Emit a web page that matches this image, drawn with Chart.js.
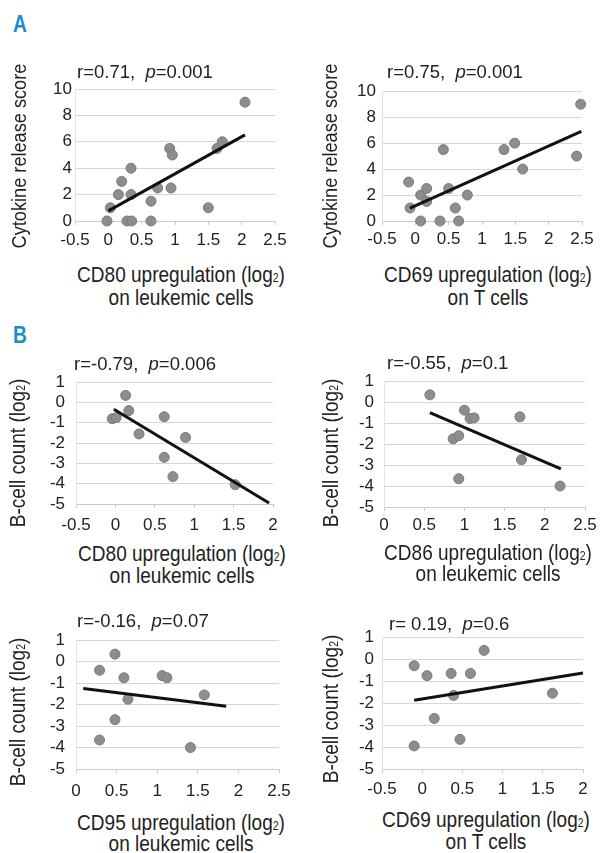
<!DOCTYPE html>
<html>
<head>
<meta charset="utf-8">
<title>Upregulation correlations</title>
<script src="https://cdn.jsdelivr.net/npm/chart.js@4.4.1/dist/chart.umd.min.js"></script>
<style>
  body { margin: 0; width: 603px; height: 853px; background: #fff; position: relative; overflow: hidden;
         font-family: 'Liberation Sans', Arial, sans-serif; color: #222; }
  canvas { position: absolute; }
  .txt { position: absolute; white-space: nowrap; }
  .letter { font-weight: bold; font-size: 24px; line-height: 24px; color: #1b8cc8; transform: translateX(-50%) scaleX(0.8); }
  .stat { font-size: 18.5px; line-height: 20px; }
  .xt { font-size: 22px; text-align: center; transform: translateX(-50%) scaleX(0.865); }
  .yt { font-size: 22px; line-height: 22px; transform: translate(-50%, -50%) rotate(-90deg) scaleX(0.865); }
  .sub { font-size: 0.55em; }
</style>
</head>
<body>

<canvas id="a1" width="300" height="180" style="left:0;top:75px"></canvas>
<canvas id="a2" width="303" height="180" style="left:300px;top:75px"></canvas>
<canvas id="b1" width="300" height="177" style="left:0;top:361px"></canvas>
<canvas id="b2" width="303" height="180" style="left:300px;top:361px"></canvas>
<canvas id="b3" width="300" height="184" style="left:0;top:619px"></canvas>
<canvas id="b4" width="303" height="184" style="left:300px;top:619px"></canvas>

<div class="txt letter" style="left:20px;top:12px">A</div>
<div class="txt letter" style="left:19.5px;top:323px">B</div>

<div class="txt stat" style="left:77px;top:62px">r=0.71,&nbsp; <i>p</i>=0.001</div>
<div class="txt stat" style="left:387px;top:62px">r=0.75,&nbsp; <i>p</i>=0.001</div>
<div class="txt stat" style="left:74px;top:353.5px">r=-0.79,&nbsp; <i>p</i>=0.006</div>
<div class="txt stat" style="left:387px;top:352.5px">r=-0.55,&nbsp; <i>p</i>=0.1</div>
<div class="txt stat" style="left:77px;top:611px">r=-0.16,&nbsp; <i>p</i>=0.07</div>
<div class="txt stat" style="left:389px;top:613.5px">r= 0.19,&nbsp; <i>p</i>=0.6</div>

<div class="txt xt" style="left:181px;top:265px;line-height:19.3px">CD80 upregulation (log<span class="sub">2</span>)<br>on leukemic cells</div>
<div class="txt xt" style="left:488px;top:265px;line-height:19.3px">CD69 upregulation (log<span class="sub">2</span>)<br>on T cells</div>
<div class="txt xt" style="left:181.7px;top:545px;line-height:18.7px">CD80 upregulation (log<span class="sub">2</span>)<br>on leukemic cells</div>
<div class="txt xt" style="left:488px;top:543.7px;line-height:18.3px">CD86 upregulation (log<span class="sub">2</span>)<br>on leukemic cells</div>
<div class="txt xt" style="left:181px;top:813.5px;line-height:17px">CD95 upregulation (log<span class="sub">2</span>)<br>on leukemic cells</div>
<div class="txt xt" style="left:485.5px;top:811.3px;line-height:18.7px">CD69 upregulation (log<span class="sub">2</span>)<br>on T cells</div>

<div class="txt yt" style="left:18.7px;top:155.7px;font-size:21px">Cytokine release score</div>
<div class="txt yt" style="left:329.7px;top:155.7px;font-size:21px">Cytokine release score</div>
<div class="txt yt" style="left:18.7px;top:452.5px">B-cell count (log<span class="sub">2</span>)</div>
<div class="txt yt" style="left:332.2px;top:453.3px">B-cell count (log<span class="sub">2</span>)</div>
<div class="txt yt" style="left:18.7px;top:711.7px">B-cell count (log<span class="sub">2</span>)</div>
<div class="txt yt" style="left:332.2px;top:709.2px">B-cell count (log<span class="sub">2</span>)</div>

<script>
// ---------------- DATA ---------------- //
// A, left: CD80 on leukemic cells vs cytokine release score
var cd80Cyto_x = [-0.02, 0.03, 0.28, 0.35, 0.15, 0.2, 0.34, 0.34, 0.64, 0.64, 0.74, 0.92, 0.96, 0.94, 1.5, 1.63, 1.71, 2.05];
var cd80Cyto_y = [0, 1, 0, 0, 2, 3, 4, 2, 1.5, 0, 2.5, 5.5, 5, 2.5, 1, 5.5, 6, 9];
var cd80Cyto_fitX = [0, 2.05];
var cd80Cyto_fitY = [0.77, 6.52];

// A, right: CD69 on T cells vs cytokine release score
var cd69Cyto_x = [-0.1, -0.08, 0.08, 0.17, 0.17, 0.08, 0.37, 0.42, 0.5, 0.6, 0.65, 0.78, 1.33, 1.49, 1.61, 2.42, 2.48];
var cd69Cyto_y = [3, 1, 2, 2.5, 1.5, 0, 0, 5.5, 2.5, 1, 0, 2, 5.5, 6, 4, 5, 9];
var cd69Cyto_fitX = [-0.08, 2.49];
var cd69Cyto_fitY = [1.0, 6.9];

// B: B-cell count (log2)
var cd80B_x = [0.13, 0.17, -0.04, 0.01, 0.3, 0.62, 0.89, 0.62, 0.73, 1.52];
var cd80B_y = [0.35, -0.4, -0.8, -0.75, -1.55, -0.7, -1.72, -2.7, -3.65, -4.05];
var cd80B_fitX = [-0.02, 1.95];
var cd80B_fitY = [-0.33, -4.95];

var cd86B_x = [0.57, 1.0, 1.07, 1.12, 0.86, 0.93, 0.93, 1.69, 1.71, 2.19];
var cd86B_y = [0.35, -0.38, -0.78, -0.75, -1.75, -1.6, -3.65, -0.7, -2.75, -4.0];
var cd86B_fitX = [0.57, 2.2];
var cd86B_fitY = [-0.5, -3.18];

var cd95B_x = [0.29, 0.48, 0.59, 0.64, 0.48, 0.29, 1.06, 1.12, 1.58, 1.41];
var cd95B_y = [-0.4, 0.35, -0.75, -1.75, -2.7, -3.65, -0.65, -0.75, -1.55, -4.0];
var cd95B_fitX = [0.09, 1.85];
var cd95B_fitY = [-1.25, -2.08];

var cd69B_x = [-0.1, 0.06, 0.36, 0.6, 0.77, 0.39, 0.15, 0.47, -0.1, 1.62];
var cd69B_y = [-0.3, -0.75, -0.65, -0.65, 0.4, -1.65, -2.7, -3.65, -3.95, -1.55];
var cd69B_fitX = [-0.1, 2.0];
var cd69B_fitY = [-1.87, -0.63];

// tick values
var xTicks_m05_25 = [-0.5, 0, 0.5, 1, 1.5, 2, 2.5];
var xTicks_m05_2 = [-0.5, 0, 0.5, 1, 1.5, 2];
var xTicks_0_25 = [0, 0.5, 1, 1.5, 2, 2.5];
var yTicksScore = [0, 2, 4, 6, 8, 10];
var yTicksBcell = [-5, -4, -3, -2, -1, 0, 1];

// ---------------- CHARTS ---------------- //
Chart.defaults.font.family = "'Liberation Sans', Arial, sans-serif";
Chart.defaults.color = '#222';

function drawPanel(id, xs, ys, fitX, fitY, xTicks, yTicks, box) {
    var pts = xs.map(function (x, i) { return {x: x, y: ys[i]}; });
    var fit = fitX.map(function (x, i) { return {x: x, y: fitY[i]}; });
    var ctx = document.getElementById(id).getContext('2d');
    return new Chart(ctx, {
        type: 'scatter',
        data: {
            datasets: [
                // trend line on top of the points
                { data: fit, showLine: true, borderColor: '#111', borderWidth: 3, pointRadius: 0, order: 0, clip: false },
                { data: pts, backgroundColor: '#8d8d8d', borderColor: '#7b7b7b', borderWidth: 1, pointRadius: 5, order: 1, clip: false }
            ]
        },
        options: {
            responsive: false,
            animation: false,
            events: [],
            layout: { padding: { left: 0, top: box.padTop, right: box.padRight, bottom: 0 } },
            plugins: { legend: { display: false }, tooltip: { enabled: false } },
            scales: {
                x: {
                    type: 'linear',
                    min: xTicks[0],
                    max: xTicks[xTicks.length - 1],
                    afterBuildTicks: function (s) { s.ticks = xTicks.map(function (v) { return {value: v}; }); },
                    afterFit: function (s) { s.height = box.xHeight; },
                    ticks: { font: { size: 17 }, padding: box.xPad, maxRotation: 0, autoSkip: false,
                             callback: function (v) { return String(v); } },
                    grid: { drawOnChartArea: false, tickLength: 4, color: '#c9c9c9' },
                    border: { color: '#c9c9c9' }
                },
                y: {
                    type: 'linear',
                    min: yTicks[0],
                    max: yTicks[yTicks.length - 1],
                    afterBuildTicks: function (s) { s.ticks = yTicks.map(function (v) { return {value: v}; }); },
                    afterFit: function (s) { s.width = box.yWidth; },
                    ticks: { font: { size: 17 }, padding: box.yPad, autoSkip: false,
                             callback: function (v) { return String(v); } },
                    grid: { drawTicks: false, color: '#d6d6d6' },
                    border: { color: '#e3e3e3' }
                }
            }
        }
    });
}

drawPanel('a1', cd80Cyto_x, cd80Cyto_y, cd80Cyto_fitX, cd80Cyto_fitY, xTicks_m05_25, yTicksScore,
    {yWidth: 75, xHeight: 34, padTop: 14, padRight: 25, xPad: 5, yPad: 3});
drawPanel('a2', cd69Cyto_x, cd69Cyto_y, cd69Cyto_fitX, cd69Cyto_fitY, xTicks_m05_25, yTicksScore,
    {yWidth: 82, xHeight: 34, padTop: 14, padRight: 21, xPad: 4, yPad: 6});
drawPanel('b1', cd80B_x, cd80B_y, cd80B_fitX, cd80B_fitY, xTicks_m05_2, yTicksBcell,
    {yWidth: 76, xHeight: 34, padTop: 14, padRight: 27, xPad: 7, yPad: 11});
drawPanel('b2', cd86B_x, cd86B_y, cd86B_fitX, cd86B_fitY, xTicks_0_25, yTicksBcell,
    {yWidth: 84, xHeight: 34, padTop: 14, padRight: 18, xPad: 4, yPad: 10});
drawPanel('b3', cd95B_x, cd95B_y, cd95B_fitX, cd95B_fitY, xTicks_0_25, yTicksBcell,
    {yWidth: 76, xHeight: 34, padTop: 14, padRight: 21, xPad: 8, yPad: 11});
drawPanel('b4', cd69B_x, cd69B_y, cd69B_fitX, cd69B_fitY, xTicks_m05_2, yTicksBcell,
    {yWidth: 82, xHeight: 34, padTop: 14, padRight: 20, xPad: 6, yPad: 8});
</script>
</body>
</html>
